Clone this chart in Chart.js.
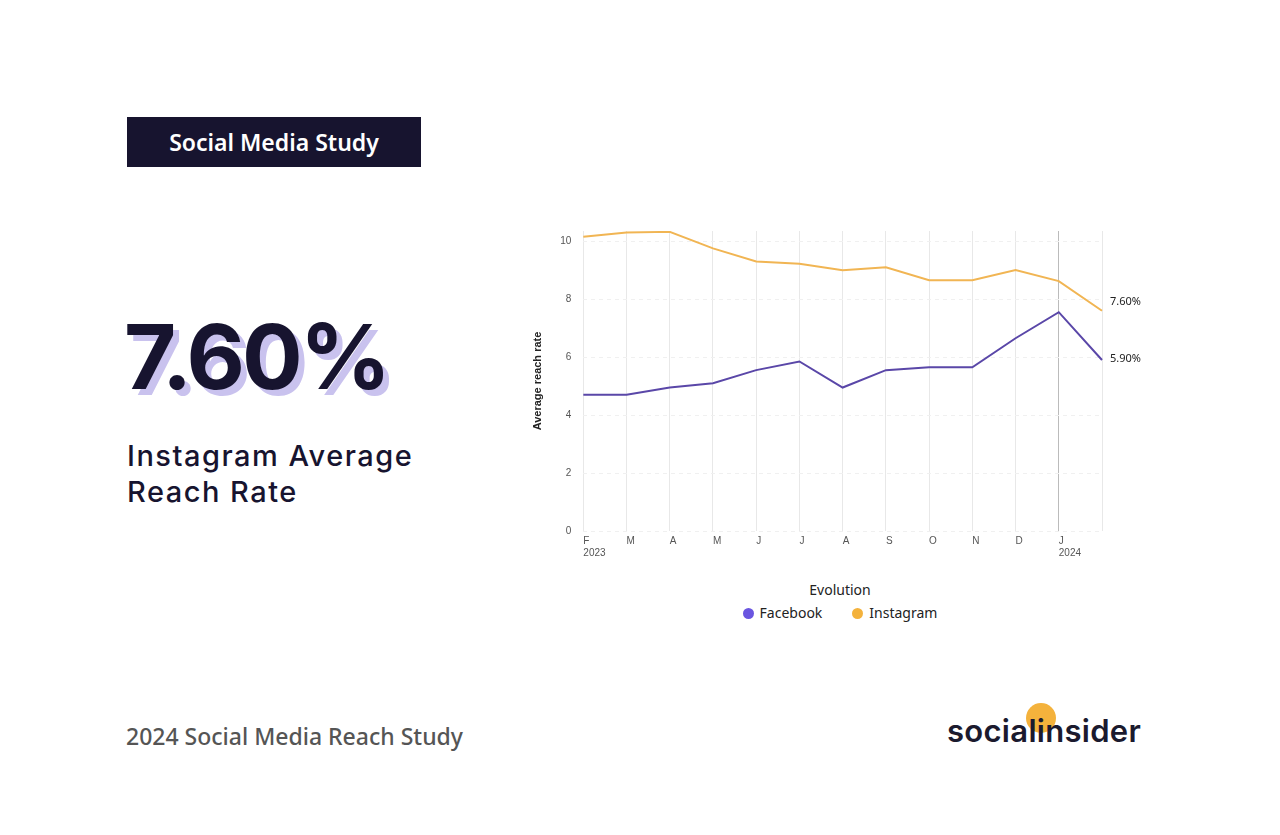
<!DOCTYPE html>
<html><head><meta charset="utf-8">
<script src="https://cdn.jsdelivr.net/npm/chart.js@4"></script>
<style>
body{margin:0;width:1280px;height:835px;background:#fff;position:relative;font-family:"Noto Sans",sans-serif;overflow:hidden}
.badge{position:absolute;left:127px;top:117px;width:294px;height:50px;background:#17142f;color:#fff;font:600 23px "Noto Sans";display:flex;align-items:center;justify-content:center}
.big{position:absolute;left:124px;top:302px;font:700 90px Inter;color:#17142f;letter-spacing:-3px;text-shadow:6px 6px 0 #c9c2ee}
.sub{position:absolute;left:127px;top:438px;font:500 29px Inter;color:#17142f;line-height:36px;letter-spacing:1.5px}
.foot{position:absolute;left:126px;top:720px;font:500 23px "Noto Sans";color:#555}
.logo{position:absolute;left:947px;top:712px;font:600 31px Inter;color:#1b1a2e;letter-spacing:0.3px}
.dot{position:absolute;left:1026px;top:703px;width:30px;height:30px;border-radius:50%;background:#f4b23c}
#wrap{position:absolute;left:527px;top:213px;width:633px;height:350px}
.leg{position:absolute;left:520px;top:580px;width:640px;text-align:center;font:14px "Noto Sans";color:#222}
.leg span.c{display:inline-block;width:11px;height:11px;border-radius:50%;margin:0 6px 0 0;vertical-align:-1px}
</style></head><body>
<div class="badge">Social Media Study</div>
<div class="big">7.60%</div>
<div class="sub">Instagram Average<br>Reach Rate</div>
<div class="foot">2024 Social Media Reach Study</div>
<div class="dot"></div>
<div class="logo">socialinsider</div>
<div id="wrap"><canvas id="chart"></canvas></div>
<div class="leg"><div>Evolution</div><div style="margin-top:4px"><span class="c" style="background:#6a55e0"></span>Facebook<span style="display:inline-block;width:30px"></span><span class="c" style="background:#f4b23c"></span>Instagram</div></div>
<script>
const months = ["F","M","A","M","J","J","A","S","O","N","D","J",""];
const years = ["2023","","","","","","","","","","","2024",""];
const instagram = [10.15,10.3,10.32,9.75,9.3,9.22,9.0,9.1,8.65,8.65,9.0,8.62,7.6];
const facebook = [4.7,4.7,4.95,5.1,5.55,5.85,4.95,5.55,5.65,5.65,6.65,7.55,5.9];
const yTicks = [0,2,4,6,8,10];

const endLabels = {
  id: "endLabels",
  afterDatasetsDraw(chart) {
    const ctx = chart.ctx;
    ctx.save();
    ctx.font = "11px 'Noto Sans'";
    ctx.fillStyle = "#222";
    ctx.textBaseline = "middle";
    chart.data.datasets.forEach((ds, i) => {
      const pt = chart.getDatasetMeta(i).data[ds.data.length - 1];
      ctx.fillText(ds.data[ds.data.length - 1].toFixed(2) + "%", pt.x + 8, pt.y + (i === 0 ? -1 : -9));
    });
    ctx.restore();
  }
};

new Chart(document.getElementById("chart"), {
  type: "line",
  data: {
    labels: months,
    datasets: [
      { label: "Facebook", data: facebook, borderColor: "#5a47a8", borderWidth: 2, pointRadius: 0, tension: 0 },
      { label: "Instagram", data: instagram, borderColor: "#f1b553", borderWidth: 2, pointRadius: 0, tension: 0 }
    ]
  },
  options: {
    responsive: true, maintainAspectRatio: false, animation: false,
    layout: { padding: { right: 58, top: 3 } },
    plugins: { legend: { display: false }, tooltip: { enabled: false } },
    scales: {
      x: {
        offset: false,
        grid: { color: (c) => c.index === 11 ? "#bbb" : "#e8e8e8", drawTicks: false },
        border: { display: false },
        ticks: {
          align: "start", padding: 4, color: "#555", font: { size: 10 }, maxRotation: 0, autoSkip: false,
          callback: (v, i) => years[i] ? [months[i], years[i]] : months[i]
        }
      },
      y: {
        min: 0, max: 10.35,
        afterBuildTicks: (ax) => { ax.ticks = yTicks.map(v => ({ value: v })); },
        grid: { color: "#f0f0f0", drawTicks: false },
        border: { display: false, dash: [4, 4] },
        ticks: { color: "#555", font: { size: 10 }, padding: 12 },
        title: { display: true, text: "Average reach rate", color: "#222", font: { size: 11, weight: "bold" } }
      }
    }
  },
  plugins: [endLabels]
});
</script>
</body></html>
